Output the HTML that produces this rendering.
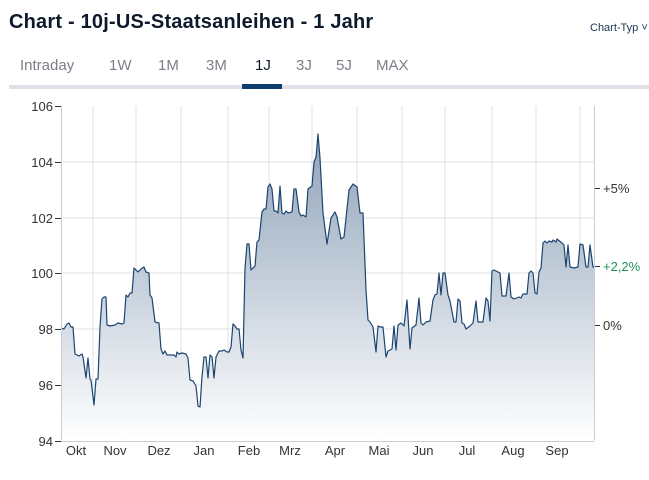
<!DOCTYPE html>
<html><head><meta charset="utf-8"><style>
body{margin:0;width:649px;height:480px;background:#fff;font-family:"Liberation Sans",sans-serif;overflow:hidden;position:relative}
.t{position:absolute;left:9px;top:11px;font-size:20px;font-weight:bold;color:#0e1a2b;letter-spacing:0.2px}
.ct{position:absolute;left:590px;top:22px;font-size:11px;color:#1b3350}
.tab{position:absolute;top:57px;font-size:15px;color:#7a7f88}
.bar{position:absolute;left:9px;top:85px;width:640px;height:4px;background:#dfe1e6}
.act{position:absolute;left:242px;top:84px;width:40px;height:5px;background:#0d3d6b}
</style></head><body>
<div class="t">Chart - 10j-US-Staatsanleihen - 1 Jahr</div>
<div class="ct">Chart-Typ ˅</div>
<div class="tab" style="left:20px">Intraday</div>
<div class="tab" style="left:109px">1W</div>
<div class="tab" style="left:158px">1M</div>
<div class="tab" style="left:206px">3M</div>
<div class="tab" style="left:255px;color:#0e1a2b">1J</div>
<div class="tab" style="left:296px">3J</div>
<div class="tab" style="left:336px">5J</div>
<div class="tab" style="left:376px">MAX</div>
<div class="bar"></div><div class="act"></div>
<svg width="649" height="480" style="position:absolute;left:0;top:0">
<defs><linearGradient id="g" x1="0" y1="0" x2="0" y2="1"><stop offset="0" stop-color="#8fa3b9"/><stop offset="1" stop-color="#ffffff"/></linearGradient></defs>
<g stroke="#dde0e6" stroke-width="1">
<line x1="61" y1="162" x2="594" y2="162"/><line x1="61" y1="218" x2="594" y2="218"/><line x1="61" y1="273" x2="594" y2="273"/><line x1="61" y1="329" x2="594" y2="329"/><line x1="61" y1="385" x2="594" y2="385"/>
<line x1="93" y1="106" x2="93" y2="441"/><line x1="136" y1="106" x2="136" y2="441"/><line x1="181" y1="106" x2="181" y2="441"/><line x1="228" y1="106" x2="228" y2="441"/><line x1="269" y1="106" x2="269" y2="441"/><line x1="312" y1="106" x2="312" y2="441"/><line x1="357" y1="106" x2="357" y2="441"/><line x1="402" y1="106" x2="402" y2="441"/><line x1="445" y1="106" x2="445" y2="441"/><line x1="492" y1="106" x2="492" y2="441"/><line x1="536" y1="106" x2="536" y2="441"/><line x1="580" y1="106" x2="580" y2="441"/>
</g>
<path fill="url(#g)" stroke="none" d="M61,441 L61,328 64,329 67,324 69,323 71,327 73,327 75,354 79,356 82,354 83,357 86,378 88,358 90,379 91,380 94,405 96,379 98,379 100,327 102,299 104,297 106,297 107,325 110,326 115,325 118,323 122,324 124,323 126,295 128,297 130,293 132,293 134,268 138,272 141,269 144,267 146,272 149,273 150,295 152,298 155,322 159,323 161,349 163,354 165,351 167,355 171,355 174,355 176,357 177,352 179,354 182,353 186,354 188,358 190,380 193,381 196,386 198,406 200,407 202,377 204,357 206,357 208,378 210,355 212,357 214,378 216,357 219,351 222,351 224,350 227,352 229,352 231,347 233,324 235,326 237,329 239,329 241,350 243,358 245,268 247,244 249,244 251,270 255,266 257,242 259,240 262,212 264,209 266,209 268,187 270,184 272,189 274,211 276,211 278,213 280,186 282,213 284,214 286,211 288,213 292,212 294,189 296,189 299,212 301,216 303,215 306,217 308,189 312,186 314,162 316,157 318,134 320,158 323,213 327,244 331,218 335,212 337,217 341,239 344,237 349,190 353,184 357,187 360,213 363,213 366,290 368,320 370,322 373,327 376,352 378,326 380,327 383,327 386,357 388,351 392,349 394,326 396,350 398,325 401,323 404,326 407,300 410,349 412,328 416,325 419,298 421,323 423,325 426,322 430,321 433,300 435,295 437,294 439,273 441,295 443,273 445,273 448,295 450,301 454,322 456,322 458,299 460,301 462,323 464,324 466,329 470,326 473,323 476,301 478,322 483,322 486,298 488,301 490,321 492,271 494,270 500,273 502,296 506,296 509,273 511,297 514,299 519,297 521,298 523,294 527,294 529,273 531,271 533,273 535,293 537,294 539,272 541,268 543,243 545,241 547,243 549,241 552,242 553,240 556,242 557,239 562,243 564,245 566,267 568,245 570,267 574,268 578,267 580,244 583,245 586,267 588,267 590,245 593,267 594,267 L594,441 Z"/>
<path fill="none" stroke="#1c4470" stroke-width="1.2" stroke-linejoin="round" d="M61,328 64,329 67,324 69,323 71,327 73,327 75,354 79,356 82,354 83,357 86,378 88,358 90,379 91,380 94,405 96,379 98,379 100,327 102,299 104,297 106,297 107,325 110,326 115,325 118,323 122,324 124,323 126,295 128,297 130,293 132,293 134,268 138,272 141,269 144,267 146,272 149,273 150,295 152,298 155,322 159,323 161,349 163,354 165,351 167,355 171,355 174,355 176,357 177,352 179,354 182,353 186,354 188,358 190,380 193,381 196,386 198,406 200,407 202,377 204,357 206,357 208,378 210,355 212,357 214,378 216,357 219,351 222,351 224,350 227,352 229,352 231,347 233,324 235,326 237,329 239,329 241,350 243,358 245,268 247,244 249,244 251,270 255,266 257,242 259,240 262,212 264,209 266,209 268,187 270,184 272,189 274,211 276,211 278,213 280,186 282,213 284,214 286,211 288,213 292,212 294,189 296,189 299,212 301,216 303,215 306,217 308,189 312,186 314,162 316,157 318,134 320,158 323,213 327,244 331,218 335,212 337,217 341,239 344,237 349,190 353,184 357,187 360,213 363,213 366,290 368,320 370,322 373,327 376,352 378,326 380,327 383,327 386,357 388,351 392,349 394,326 396,350 398,325 401,323 404,326 407,300 410,349 412,328 416,325 419,298 421,323 423,325 426,322 430,321 433,300 435,295 437,294 439,273 441,295 443,273 445,273 448,295 450,301 454,322 456,322 458,299 460,301 462,323 464,324 466,329 470,326 473,323 476,301 478,322 483,322 486,298 488,301 490,321 492,271 494,270 500,273 502,296 506,296 509,273 511,297 514,299 519,297 521,298 523,294 527,294 529,273 531,271 533,273 535,293 537,294 539,272 541,268 543,243 545,241 547,243 549,241 552,242 553,240 556,242 557,239 562,243 564,245 566,267 568,245 570,267 574,268 578,267 580,244 583,245 586,267 588,267 590,245 593,267 594,267"/>
<g stroke="#c8ccd3" stroke-width="1"><line x1="61.5" y1="106" x2="61.5" y2="441"/><line x1="594.5" y1="106" x2="594.5" y2="441"/><line x1="61" y1="441.5" x2="594" y2="441.5"/></g>
<g stroke="#333" stroke-width="1"><line x1="55" y1="106.5" x2="61" y2="106.5"/><line x1="55" y1="162.5" x2="61" y2="162.5"/><line x1="55" y1="218.5" x2="61" y2="218.5"/><line x1="55" y1="273.5" x2="61" y2="273.5"/><line x1="55" y1="329.5" x2="61" y2="329.5"/><line x1="55" y1="385.5" x2="61" y2="385.5"/><line x1="55" y1="441.5" x2="61" y2="441.5"/>
<line x1="595" y1="188.5" x2="600" y2="188.5"/><line x1="595" y1="266.5" x2="600" y2="266.5"/><line x1="595" y1="325.5" x2="600" y2="325.5"/></g>
<g font-family="Liberation Sans,sans-serif" font-size="13" fill="#333" text-anchor="end">
<text x="53" y="111">106</text><text x="53" y="167">104</text><text x="53" y="223">102</text><text x="53" y="278">100</text><text x="53" y="334">98</text><text x="53" y="390">96</text><text x="53" y="446">94</text></g>
<g font-family="Liberation Sans,sans-serif" font-size="13" fill="#333">
<text x="603" y="193">+5%</text><text x="603" y="271" fill="#1f8f55">+2,2%</text><text x="603" y="330">0%</text></g>
<g font-family="Liberation Sans,sans-serif" font-size="13" fill="#333" text-anchor="middle">
<text x="76" y="455">Okt</text><text x="115" y="455">Nov</text><text x="159" y="455">Dez</text><text x="204" y="455">Jan</text><text x="249" y="455">Feb</text><text x="290" y="455">Mrz</text><text x="335" y="455">Apr</text><text x="379" y="455">Mai</text><text x="423" y="455">Jun</text><text x="467" y="455">Jul</text><text x="513" y="455">Aug</text><text x="557" y="455">Sep</text></g>
</svg>
</body></html>
